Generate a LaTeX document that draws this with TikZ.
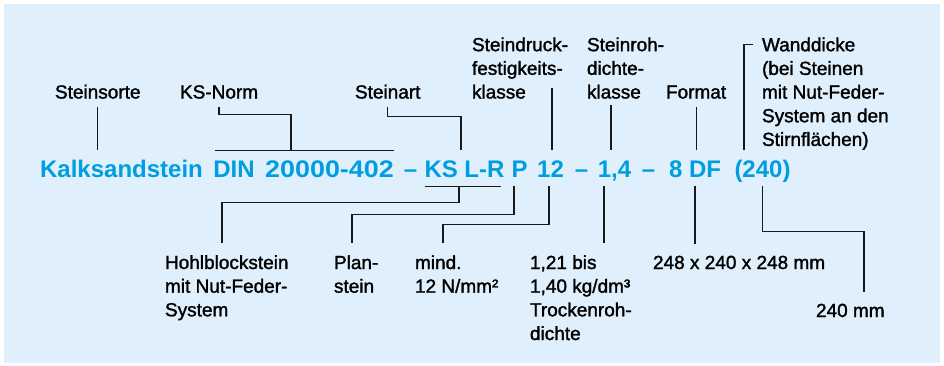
\documentclass[tikz,border=0pt]{standalone}
\usepackage{fontspec}
\setmainfont{Liberation Sans}
\newfontfamily\lblfont{Liberation Sans}[FakeBold=1.5]
\usetikzlibrary{calc}

\definecolor{bgblue}{RGB}{223,240,252}
\definecolor{kblue}{RGB}{0,158,224}
\definecolor{lnblack}{RGB}{25,25,25}

\tikzset{
  code/.style={font=\bfseries\fontsize{18pt}{20pt}\selectfont, text=kblue,
    inner sep=0pt, text height=12.9pt, text depth=0pt,
    outer xsep=0pt, outer ysep=7pt, anchor=base},
  toplbl/.style={font=\lblfont\fontsize{14.25pt}{17.75pt}\selectfont, align=left,
    inner sep=0pt, outer xsep=0pt, outer ysep=6pt, anchor=base west},
  botlbl/.style={toplbl, outer ysep=9pt},
  conn/.style={draw=lnblack, line width=0.9pt},
}

\begin{document}
\begin{tikzpicture}[x=0.75pt,y=0.75pt,yscale=-1]
\useasboundingbox (0,0) rectangle (944,365);
\fill[bgblue] (4,4) rectangle (940,363);

% the designation, piece by piece
\node[code] (tkalk) at (121.5,177) {Kalksandstein};
\node[code] (tdin) at (234,177) {DIN};
\node[code] (tnum) at (329.5,177) {\scalebox{1.12}[1]{20000-402}};
\node[code] (td1) at (410.5,177) {–};
\node[code] (tks) at (464.5,177) {KS L-R};
\node[code] (tp) at (519.5,177) {P};
\node[code] (tdr) at (550.5,177) {12};
\node[code] (td2) at (581.5,177) {–};
\node[code] (troh) at (614.5,177) {1,4};
\node[code] (td3) at (648.5,177) {–};
\node[code] (tfmt) at (695,177) {8 DF};
\node[code] (twand) at (762.5,177) {(240)};

% labels above (placed at the baseline of their last line)
\node[toplbl] (lsorte) at (55,98.5) {Steinsorte};
\node[toplbl] (lnorm) at (180,98.5) {KS-Norm};
\node[toplbl] (lart) at (355,98.5) {Steinart};
\node[toplbl] (ldruck) at (472,98.5) {Steindruck-\\festigkeits-\\klasse};
\node[toplbl] (lroh) at (587,98.5) {Steinroh-\\dichte-\\klasse};
\node[toplbl] (lfmt) at (666,98.5) {Format};
\node[toplbl] (lwand) at (762,145.9) {Wanddicke\\(bei Steinen\\mit Nut-Feder-\\System an den\\Stirnflächen)};

% labels below
\node[botlbl] (lhohl) at (165,316.3) {Hohlblockstein\\mit Nut-Feder-\\System};
\node[botlbl] (lplan) at (334,292.7) {Plan-\\stein};
\node[botlbl] (lmind) at (415,292.7) {mind.\\12 N/mm²};
\node[botlbl] (l121) at (530,340) {1,21 bis\\1,40 kg/dm³\\Trockenroh-\\dichte};
\node[botlbl] (l248) at (653,269) {248 x 240 x 248 mm};
\node[botlbl] (l240) at (816,317) {240 mm};

% leaders above
\draw[conn] (lsorte.south) -- (lsorte.south |- tkalk.north);
\draw[conn] ($(tdin.north west)+(2,0)$) -- (tnum.north east);
\draw[conn] (lnorm.south) |- ($(tnum.north)+(-38.5,-36)$) -- ($(tnum.north)+(-38.5,0)$);
\draw[conn] (lart.south) |- ($(tks.north)+(-3.5,-34)$) -- ($(tks.north)+(-3.5,0)$);
\draw[conn] ($(tdr.north)+(1.5,-62)$) -- ($(tdr.north)+(1.5,0)$);
\draw[conn] ($(troh.north)+(-3.5,-45)$) -- ($(troh.north)+(-3.5,0)$);
\draw[conn] (lfmt.south) -- (lfmt.south |- tfmt.north);
\draw[conn] ($(lwand.north west)+(-9,14.7)$) -- ++(-9,0) -- ($(twand.north)+(-18.5,0)$);

% leaders below
\draw[conn] (tks.south west) -- ($(tks.south east)+(-4,0)$);
\draw[conn] ($(tks.south)+(-5.5,0)$) -- ++(0,16.5) -| ($(lhohl.north west)+(57,0)$);
\draw[conn] ($(tp.south)+(-5.5,0)$) -- ++(0,28) -| ($(lplan.north west)+(18,0)$);
\draw[conn] ($(tdr.south)+(-1.5,0)$) -- ++(0,38) -| ($(lmind.north west)+(28,0)$);
\draw[conn] ($(troh.south)+(-10.5,0)$) -- ($(l121.north west)+(74,0)$);
\draw[conn] (tfmt.south) -- (tfmt.south |- l248.north);
\draw[conn] (twand.south) -- ++(0,45.5) -| ($(l240.north west)+(48,0)$);
\end{tikzpicture}
\end{document}
